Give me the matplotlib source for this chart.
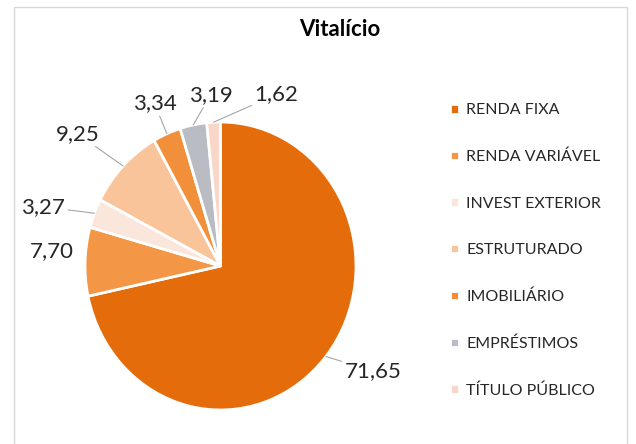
import numpy as np
import matplotlib
matplotlib.use('Agg')
from matplotlib import pyplot as plt
from matplotlib.patches import Rectangle

plt.rcParams['font.family'] = ['Lato', 'DejaVu Sans']

categories = ['RENDA FIXA', 'RENDA VARIÁVEL', 'INVEST EXTERIOR', 'ESTRUTURADO',
              'IMOBILIÁRIO', 'EMPRÉSTIMOS', 'TÍTULO PÚBLICO']
values = [71.65, 7.70, 3.27, 9.25, 3.34, 3.19, 1.62]
colors = ['#E46C0A', '#F39746', '#FBE6DB', '#F9C49A', '#F18F3A', '#B9BDC3', '#F8D6C8']
title = 'Vitalício'

# posição dos rótulos: (desvio angular em graus, raio), e se tem linha guia
label_pos = [(6, 1.34), (-3, 1.25), (4, 1.37), (3, 1.40), (0, 1.23), (-8, 1.19), (-22, 1.26)]
leader = [True, False, True, True, True, True, True]

fig = plt.figure(figsize=(6.36, 4.44), dpi=100)
fig.patches.append(Rectangle((14 / 636, -0.05), 613 / 636, 1 - 7 / 444 + 0.05,
                             transform=fig.transFigure, fill=False,
                             edgecolor='#D9D9D9', linewidth=1))

ax = fig.add_axes([85 / 636, 34 / 444, 271 / 636, 288 / 444])
wedges, _ = ax.pie(values, colors=colors, startangle=90, counterclock=False,
                   wedgeprops=dict(edgecolor='white', linewidth=2))
ax.set_aspect('auto')
ax.set_xlim(-1.0, 1.0)
ax.set_ylim(-1.0, 1.0)

for w, v, (da, r), ln in zip(wedges, values, label_pos, leader):
    mid = np.deg2rad((w.theta1 + w.theta2) / 2)
    ang = mid + np.deg2rad(da)
    tx, ty = r * np.cos(ang), r * np.sin(ang)
    txt = f'{v:.2f}'.replace('.', ',')
    if ln:
        ax.annotate(txt, xy=(np.cos(mid), np.sin(mid)), xytext=(tx, ty),
                    ha='center', va='center', fontsize=16, color='#262626',
                    arrowprops=dict(arrowstyle='-', color='#A6A6A6', lw=0.8,
                                    shrinkA=0, shrinkB=0))
    else:
        ax.text(tx, ty, txt, ha='center', va='center', fontsize=16, color='#262626')

fig.text(340 / 636, 1 - 30 / 444, title, ha='center', va='center',
         fontsize=16, fontweight='bold', color='#000000')

fig.legend(wedges, categories, loc='upper left', bbox_to_anchor=(436 / 636, 1 - 89 / 444),
           frameon=False, fontsize=11.5, labelspacing=2.03, handlelength=0.55,
           handleheight=0.55, handletextpad=0.45, labelcolor='#262626')

fig.savefig('out.png', dpi=100, facecolor='white')
